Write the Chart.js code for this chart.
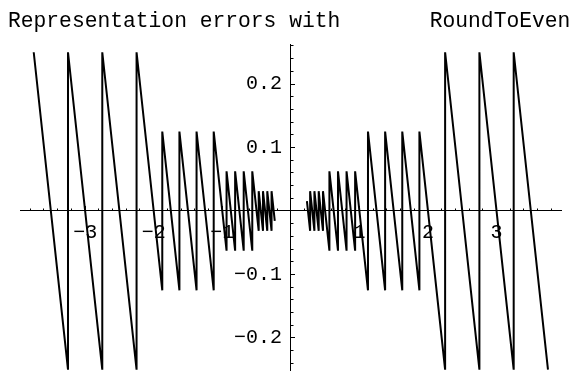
<!DOCTYPE html>
<html lang="en">
<head>
    <meta charset="UTF-8">
    <title>Representation errors with RoundToEven</title>
    <script src="https://cdn.jsdelivr.net/npm/chart.js"></script>
    <style>
        body { margin: 0; background: #fff; }
        #wrap { position: relative; width: 571px; height: 371px; }
        #title {
            position: absolute; left: 8px; top: 9px;
            font-family: 'Liberation Mono', monospace; font-size: 21.3px;
            line-height: 24px; white-space: pre; color: #000;
        }
        canvas { position: absolute; left: 0; top: 0; }
    </style>
</head>
<body>
    <div id="wrap">
        <canvas id="errChart" width="571" height="371"></canvas>
        <div id="title">Representation errors with       RoundToEven</div>
    </div>

    <script>
        // sawtooth vertices (x < 0 branch and x > 0 branch)
        const negX = [-3.75, -3.25, -3.25, -2.75, -2.75, -2.25, -2.25,
            -1.875, -1.875, -1.625, -1.625, -1.375, -1.375, -1.125, -1.125,
            -0.9375, -0.9375, -0.8125, -0.8125, -0.6875, -0.6875, -0.5625, -0.5625,
            -0.46875, -0.46875, -0.40625, -0.40625, -0.34375, -0.34375, -0.28125, -0.28125,
            -0.234375];
        const negY = [0.25, -0.25, 0.25, -0.25, 0.25, -0.25, 0.25,
            -0.125, 0.125, -0.125, 0.125, -0.125, 0.125, -0.125, 0.125,
            -0.0625, 0.0625, -0.0625, 0.0625, -0.0625, 0.0625, -0.0625, 0.0625,
            -0.03125, 0.03125, -0.03125, 0.03125, -0.03125, 0.03125, -0.03125, 0.03125,
            -0.015625];
        const posX = [0.234375, 0.28125, 0.28125, 0.34375, 0.34375, 0.40625, 0.40625,
            0.46875, 0.46875, 0.5625, 0.5625, 0.6875, 0.6875, 0.8125, 0.8125,
            0.9375, 0.9375, 1.125, 1.125, 1.375, 1.375, 1.625, 1.625,
            1.875, 1.875, 2.25, 2.25, 2.75, 2.75, 3.25, 3.25, 3.75];
        const posY = [0.015625, -0.03125, 0.03125, -0.03125, 0.03125, -0.03125, 0.03125,
            -0.03125, 0.03125, -0.0625, 0.0625, -0.0625, 0.0625, -0.0625, 0.0625,
            -0.0625, 0.0625, -0.125, 0.125, -0.125, 0.125, -0.125, 0.125,
            -0.125, 0.125, -0.25, 0.25, -0.25, 0.25, -0.25, 0.25, -0.25];

        const xTicks = [-3, -2, -1, 1, 2, 3];
        const yTicks = [-0.2, -0.1, 0.1, 0.2];

        const toPoints = (xs, ys) => xs.map((x, i) => ({ x: x, y: ys[i] }));
        const minus = s => String(s).replace('-', '\u2212');
        const font = { family: 'Liberation Mono', size: 20 };
        const X_MIN = -3.95, X_MAX = 3.94, Y_MIN = -0.252, Y_MAX = 0.263;

        // axes sit inside the plot, so they must not eat layout space
        const noSpace = s => {
            s.height = s.isHorizontal() ? 0 : s.height;
            s.width = s.isHorizontal() ? s.width : 0;
            s.paddingTop = s.paddingBottom = s.paddingLeft = s.paddingRight = 0;
        };

        const lineSet = (xs, ys) => ({
            data: toPoints(xs, ys),
            showLine: true,
            borderColor: '#000',
            borderWidth: 2,
            pointRadius: 0,
            tension: 0
        });

        new Chart(document.getElementById('errChart'), {
            type: 'scatter',
            data: { datasets: [lineSet(negX, negY), lineSet(posX, posY)] },
            options: {
                responsive: false,
                animation: false,
                layout: { padding: { left: 20, right: 10, top: 44, bottom: 0 } },
                plugins: { legend: { display: false }, tooltip: { enabled: false } },
                scales: {
                    x: {
                        type: 'linear', min: X_MIN, max: X_MAX, position: { y: 0 },
                        afterBuildTicks: s => { s.ticks = xTicks.map(v => ({ value: v })); },
                        afterFit: noSpace,
                        ticks: { font: font, color: '#000', padding: 15, maxRotation: 0, callback: v => minus(v) },
                        grid: { drawOnChartArea: false, tickLength: -5, tickColor: '#000' },
                        border: { display: true, color: '#000', width: 1 }
                    },
                    xMinor: {
                        type: 'linear', axis: 'x', min: X_MIN, max: X_MAX, position: { y: 0 },
                        afterFit: noSpace,
                        ticks: { display: false, stepSize: 0.2, includeBounds: false },
                        grid: { drawOnChartArea: false, tickLength: -2.5, tickColor: '#000' },
                        border: { display: false }
                    },
                    y: {
                        type: 'linear', min: Y_MIN, max: Y_MAX, position: { x: 0 },
                        afterBuildTicks: s => { s.ticks = yTicks.map(v => ({ value: v })); },
                        afterFit: noSpace,
                        ticks: { display: false },
                        grid: { drawOnChartArea: false, tickLength: -5, tickColor: '#000' },
                        border: { display: true, color: '#000', width: 1 }
                    },
                    yMinor: {
                        type: 'linear', axis: 'y', min: Y_MIN, max: Y_MAX, position: { x: 0 },
                        afterFit: noSpace,
                        ticks: { display: false, stepSize: 0.02, includeBounds: false },
                        grid: { drawOnChartArea: false, tickLength: -2.5, tickColor: '#000' },
                        border: { display: false }
                    },
                    yLabels: {
                        type: 'linear', axis: 'y', min: Y_MIN, max: Y_MAX, position: { x: -0.13 },
                        afterBuildTicks: s => { s.ticks = yTicks.map(v => ({ value: v })); },
                        afterFit: noSpace,
                        ticks: { font: font, color: '#000', callback: v => minus(v.toFixed(1)) },
                        grid: { display: false },
                        border: { display: false }
                    }
                }
            }
        });
    </script>
</body>
</html>
